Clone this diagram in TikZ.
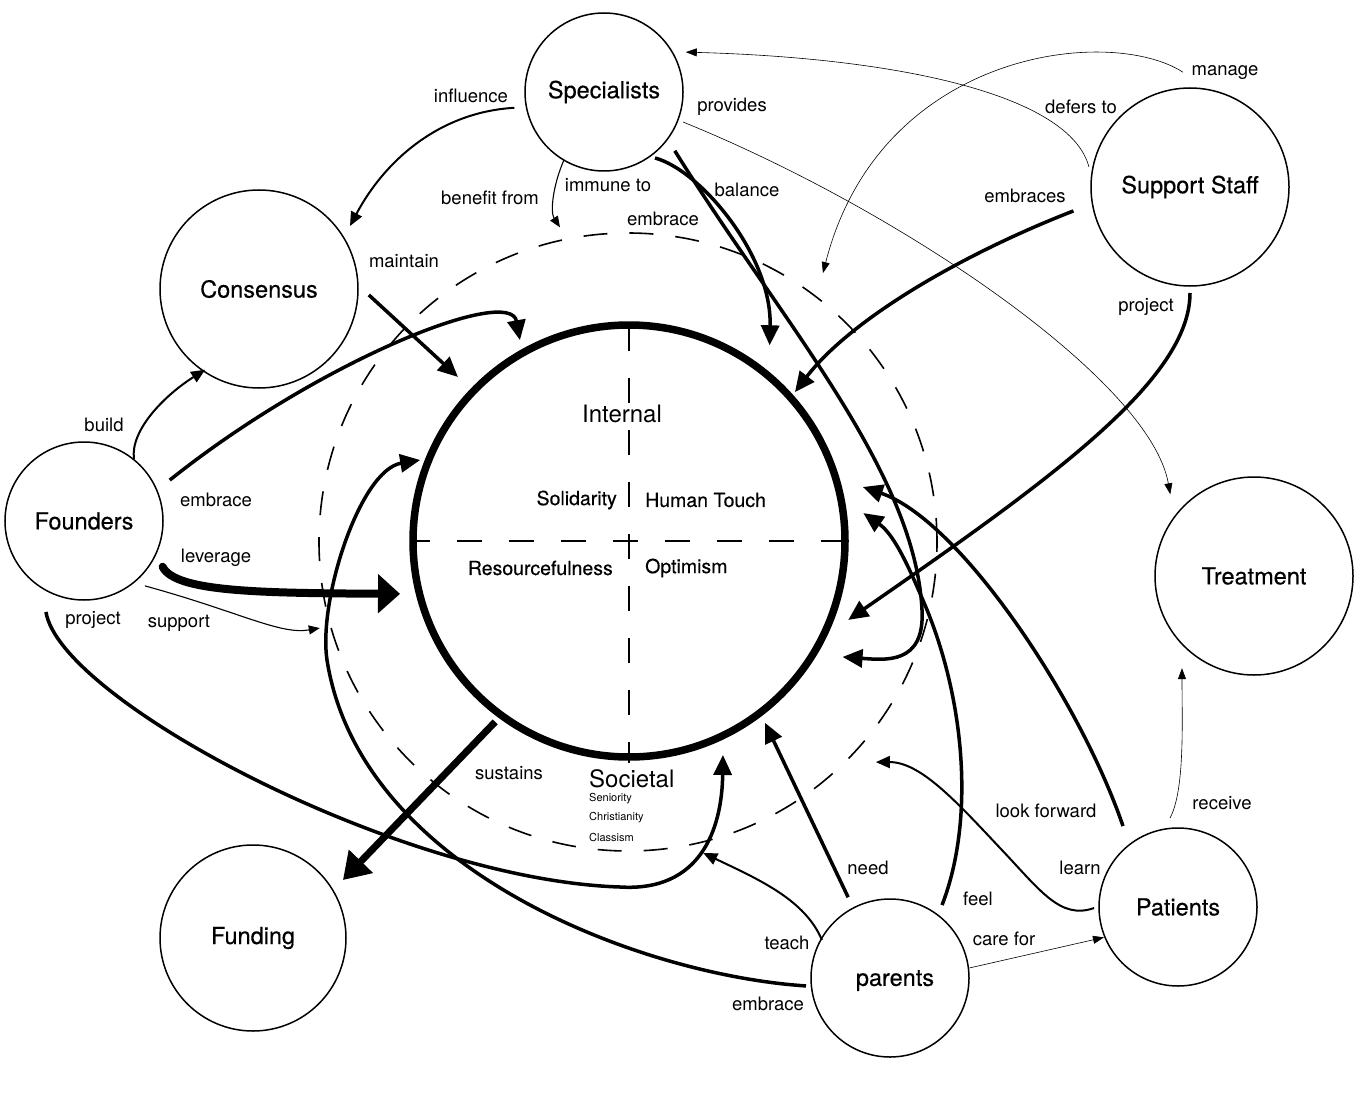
\documentclass[tikz,border=0pt]{standalone}
\usepackage{fontspec}
\setmainfont{TeX Gyre Heros}
\newfontfamily\medfont[FakeBold=0.35]{TeX Gyre Heros}
\usetikzlibrary{arrows.meta,calc}
\begin{document}
\begin{tikzpicture}[x=1pt,y=1pt,
  ent/.style={circle,draw,line width=1.5pt,inner sep=0pt,font=\medfont\fontsize{23.5}{28}\selectfont},
  lbl/.style={font=\fontsize{18.5}{22}\selectfont,inner sep=1pt},
  inlbl/.style={font=\medfont\fontsize{19.5}{23}\selectfont,inner sep=1pt},
  biglbl/.style={font=\fontsize{24}{28}\selectfont,inner sep=1pt},
  smalllbl/.style={font=\fontsize{11}{13}\selectfont,inner sep=0pt,anchor=west},
  hair/.style={line width=0.6pt,-{Triangle[length=11pt,width=8pt]}},
  fine/.style={line width=1.1pt,-{Triangle[length=11pt,width=9pt]}},
  med/.style={line width=2pt,-{Triangle[length=14pt,width=12pt]}},
  bold/.style={line width=3.5pt,-{Triangle[length=20pt,width=18pt]}},
  heavy/.style={line width=8pt,line cap=round,-{Triangle[length=22pt,width=38pt]}},
  heavytwo/.style={line width=7pt,-{Triangle[length=26pt,width=32pt]}},
  crossdash/.style={line width=1.6pt,dash pattern=on 25pt off 27pt}
]
\path[fill=white] (0,0) rectangle (1359,-1094);
\useasboundingbox (0,0) rectangle (1359,-1094);

% central structure
\node[circle,draw,line width=1.6pt,dash pattern=on 24pt off 22pt,minimum size=618pt,inner sep=0pt] (ring) at (628,-542) {};
\node[circle,draw,line width=7.5pt,minimum size=432pt,inner sep=0pt] (core) at (629,-541) {};
\draw[crossdash] ($(core)+(0,215)$) -- ($(core)+(0,-222)$);
\draw[crossdash] ($(core)+(217,0)$) -- ($(core)+(-219,0)$);

% entity circles
\node[ent,minimum size=158pt] (spec) at (604,-92) {Specialists};
\node[ent,minimum size=198pt] (cons) at (259,-289) {Consensus};
\node[ent,minimum size=158pt] (found) at (84,-521) {Founders};
\node[ent,minimum size=186pt] (fund) at (253,-938) {Funding};
\node[ent,minimum size=198pt] (ss) at (1190,-187) {Support Staff};
\node[ent,minimum size=198pt] (treat) at (1254,-576) {Treatment};
\node[ent,minimum size=158pt] (pat) at (1178,-907) {Patients};
\node[ent,minimum size=158pt,text depth=0pt] (par) at (890,-978) {\hspace*{10pt}parents};

% inner texts
\node[biglbl] (tint) at (622,-414) {Internal};
\node[inlbl,anchor=east] (tsol) at (618,-500) {Solidarity};
\node[inlbl,anchor=west] (thum) at (644,-500) {Human Touch};
\node[inlbl,anchor=east] (tres) at (614,-568) {Resourcefulness};
\node[inlbl,anchor=west] (topt) at (644,-568) {Optimism};
\node[biglbl,anchor=west] (tsoc) at (588,-779) {Societal};
\node[smalllbl] (tsen) at (589,-799) {Seniority};
\node[smalllbl] (tchr) at (589,-818) {Christianity};
\node[smalllbl] (tcla) at (589,-837) {Classism};

% connectors
\draw[med] ($(spec)+(190:91)$) .. controls (440,-112) and (385,-160) .. ($(cons)+(34.7:110.7)$);
\draw[fine] ($(spec)+(239.5:79)$) .. controls (553,-185) and (550,-212) .. ($(ring)+(102.2:322)$);
\draw[bold] ($(spec)+(307.7:83.4)$) .. controls (700,-170) and (772,-255) .. ($(core)+(54.3:241)$);
\draw[bold] ($(spec)+(-39.7:92)$) .. controls (780,-320) and (915,-470) .. (922,-610) .. controls (925,-665) and (885,-660) .. ($(core)+(-28.5:243)$);
\draw[bold] ($(par)+(54.5:89.6)$) .. controls (975,-820) and (965,-700) .. (925,-605) .. controls (910,-570) and (895,-535) .. ($(core)+(6.8:236)$);
\draw[bold] ($(pat)+(124.2:97.9)$) .. controls (1080,-700) and (960,-520) .. ($(core)+(13:240)$);
\draw[bold] ($(ss)+(191.6:119)$) .. controls (960,-255) and (850,-320) .. ($(core)+(41.9:223)$);
\draw[bold] ($(ss)+(270:106)$) .. controls (1190,-380) and (1050,-480) .. ($(core)+(-19.8:233)$);
\draw[hair] ($(ss)+(168.8:103)$) .. controls (1070,-95) and (900,-58) .. ($(spec)+(26:91)$);
\draw[hair] ($(ss)+(93.5:115)$) .. controls (1110,-25) and (880,-50) .. ($(ring)+(54.06:332.2)$);
\draw[hair] ($(spec)+(-20.8:84.5)$) .. controls (900,-210) and (1150,-380) .. ($(treat)+(135.7:117)$);
\draw[bold] ($(cons)+(-3.1:110)$) -- ($(core)+(136.2:237)$);
\draw[med] ($(found)+(51.1:79.6)$) .. controls (130,-430) and (165,-395) .. ($(cons)+(236.3:97)$);
\draw[bold] ($(found)+(25.5:95)$) .. controls (320,-360) and (510,-285) .. ($(core)+(118.5:228.6)$);
\draw[heavy] ($(found)+(-30.2:91)$) .. controls (175,-592) and (260,-593) .. ($(core)+(193:235)$);
\draw[fine] ($(found)+(-46.8:89)$) .. controls (240,-612) and (280,-635) .. ($(ring)+(195.6:320)$);
\draw[bold] ($(found)+(247.3:98.6)$) .. controls (60,-700) and (400,-880) .. (620,-887) .. controls (700,-892) and (722,-830) .. ($(core)+(-66.3:233.7)$);
\draw[heavytwo] ($(core)+(233.5:225)$) -- ($(fund)+(32.8:107)$);
\draw[bold] ($(par)+(185.4:84.4)$) .. controls (640,-975) and (360,-870) .. (327,-660) .. controls (318,-600) and (360,-470) .. ($(core)+(158.8:224)$);
\draw[med] ($(par)+(150.8:78)$) .. controls (805,-900) and (760,-880) .. ($(ring)+(-76.4:320)$);
\draw[bold] ($(par)+(117.4:91)$) -- ($(core)+(-53.2:227)$);
\draw[hair] ($(par)+(7.2:80)$) -- ($(pat)+(202.3:80)$);
\draw[med] ($(pat)+(180.7:84)$) .. controls (1060,-920) and (1040,-890) .. (1000,-848) .. controls (955,-800) and (920,-762) .. ($(ring)+(-41.6:331.5)$);
\draw[hair] ($(pat)+(95.1:89.4)$) .. controls (1185,-790) and (1182,-720) .. ($(treat)+(232:117)$);

% connector labels
\node[lbl] (l1) at (471,-96) {influence};
\node[lbl] (l2) at (732,-107) {provides};
\node[lbl] (l3) at (608,-185) {immune to};
\node[lbl] (l4) at (490,-198) {benefit from};
\node[lbl] (l5) at (747,-190) {balance};
\node[lbl] (l6) at (663,-219) {embrace};
\node[lbl] (l7) at (404,-261) {maintain};
\node[lbl] (l8) at (1225,-73) {manage};
\node[lbl] (l9) at (1081,-107) {defers to};
\node[lbl] (l10) at (1025,-196) {embraces};
\node[lbl] (l11) at (1146,-307) {project};
\node[lbl] (l12) at (104,-425) {build};
\node[lbl] (l13) at (216,-500) {embrace};
\node[lbl] (l14) at (216,-558) {leverage};
\node[lbl] (l15) at (93,-620) {project};
\node[lbl] (l16) at (179,-623) {support};
\node[lbl] (l17) at (509,-773) {sustains};
\node[lbl] (l18) at (1046,-811) {look forward};
\node[lbl] (l19) at (1080,-868) {learn};
\node[lbl] (l20) at (1222,-803) {receive};
\node[lbl] (l21) at (868,-868) {need};
\node[lbl] (l22) at (978,-899) {feel};
\node[lbl] (l23) at (1004,-939) {care for};
\node[lbl] (l24) at (787,-943) {teach};
\node[lbl] (l25) at (768,-1004) {embrace};
\end{tikzpicture}
\end{document}
